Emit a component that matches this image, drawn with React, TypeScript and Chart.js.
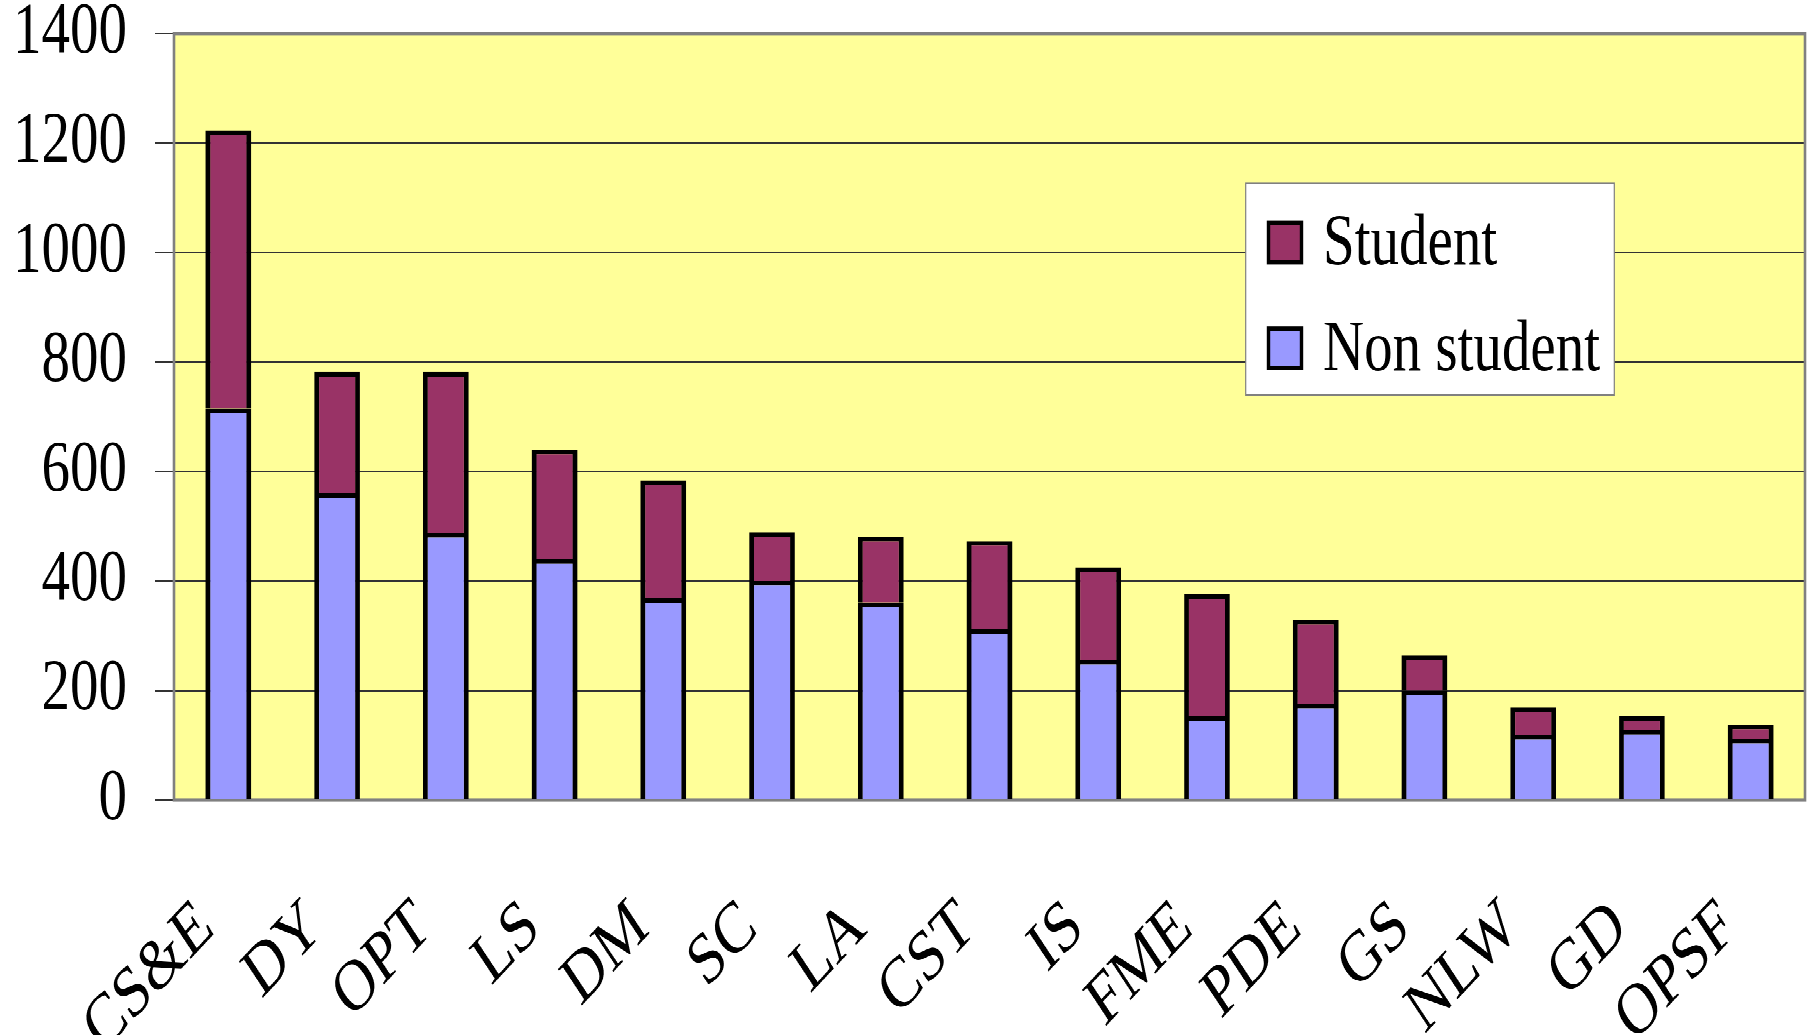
import React, { useEffect, useRef } from "react";
import { Chart, registerables } from "chart.js";

Chart.register(...registerables);

// ---- data ----
const categories = ["CS&E", "DY", "OPT", "LS", "DM", "SC", "LA", "CST", "IS", "FME", "PDE", "GS", "NLW", "GD", "OPSF"];
const nonStudent = [715, 560, 488, 440, 369, 400, 361, 312, 256, 153, 176, 200, 119, 128, 112];
const student = [508, 222, 294, 200, 215, 89, 120, 161, 169, 223, 153, 64, 50, 25, 26];
const yTicks = [0, 200, 400, 600, 800, 1000, 1200, 1400];
const seriesNames = ["Student", "Non student"];

// ---- styling ----
const W = 1810;
const H = 1035;
const STRETCH = 1.27; // the reference is stretched vertically
const LH = Math.round(H / STRETCH);
const FONT = "'Liberation Serif', 'Times New Roman', serif";
const FONT_SIZE = 57;
const STUDENT_COLOR = "#993366";
const NONSTUDENT_COLOR = "#9999FF";
const PLOT_BG = "#FFFF99";
const BAR_BORDER = { top: 3.6, left: 4.8, right: 4.8, bottom: 0 };

const plotPlugin = {
  id: "plotDecor",
  beforeDraw(chart: any) {
    const { ctx, chartArea: a } = chart;
    ctx.save();
    ctx.fillStyle = "#ffffff";
    ctx.fillRect(0, 0, chart.width, chart.height);
    ctx.fillStyle = PLOT_BG;
    ctx.fillRect(a.left, a.top, a.right - a.left, a.bottom - a.top);
    ctx.restore();
  },
  beforeDatasetsDraw(chart: any) {
    const { ctx, chartArea: a } = chart;
    ctx.save();
    ctx.strokeStyle = "#808080";
    ctx.lineWidth = 2.6;
    ctx.strokeRect(a.left, a.top, a.right - a.left, a.bottom - a.top);
    ctx.restore();
  },
  afterDraw(chart: any) {
    const { ctx } = chart;
    const box = { x: 1245.7, y: 144.3, w: 368.6, h: 166.7 };
    ctx.save();
    ctx.fillStyle = "#ffffff";
    ctx.fillRect(box.x, box.y, box.w, box.h);
    ctx.strokeStyle = "#808080";
    ctx.lineWidth = 1.2;
    ctx.strokeRect(box.x, box.y, box.w, box.h);
    const ds = chart.data.datasets;
    const items = [
      { label: ds[1].label, color: ds[1].backgroundColor, base: 208 },
      { label: ds[0].label, color: ds[0].backgroundColor, base: 291.3 },
    ];
    ctx.font = `${FONT_SIZE}px ${FONT}`;
    ctx.textBaseline = "alphabetic";
    ctx.textAlign = "left";
    for (const it of items) {
      const sx = 1268.5, sw = 33, sh = 31;
      const sy = it.base - sh - 1.5;
      ctx.fillStyle = it.color;
      ctx.fillRect(sx, sy, sw, sh);
      ctx.strokeStyle = "#000";
      ctx.lineWidth = 3.4;
      ctx.strokeRect(sx, sy, sw, sh);
      ctx.fillStyle = "#000";
      ctx.fillText(it.label, 1323, it.base);
    }
    ctx.restore();
  },
};

export default function App() {
  const ref = useRef<HTMLCanvasElement | null>(null);

  useEffect(() => {
    if (!ref.current) return;
    const chart = new Chart(ref.current, {
      type: "bar",
      data: {
        labels: categories,
        datasets: [
          {
            label: seriesNames[1],
            data: nonStudent,
            backgroundColor: NONSTUDENT_COLOR,
            borderColor: "#000000",
            borderWidth: BAR_BORDER,
            borderSkipped: false,
          },
          {
            label: seriesNames[0],
            data: student,
            backgroundColor: STUDENT_COLOR,
            borderColor: "#000000",
            borderWidth: BAR_BORDER,
            borderSkipped: false,
          },
        ],
      },
      options: {
        responsive: false,
        animation: false,
        devicePixelRatio: 2,
        layout: { padding: { left: 0, right: 5, top: 26.4, bottom: 0 } },
        plugins: {
          legend: { display: false },
          tooltip: { enabled: false },
          title: { display: false },
        },
        datasets: {
          bar: { barPercentage: 0.42, categoryPercentage: 1 },
        },
        scales: {
          x: {
            stacked: true,
            grid: { display: false },
            border: { display: false },
            ticks: {
              color: "#000",
              font: { family: FONT, size: FONT_SIZE },
              minRotation: 40,
              maxRotation: 40,
              autoSkip: false,
              padding: 58,
              labelOffset: -22,
            },
            afterFit(scale: any) {
              scale.height = LH - 630;
              scale.paddingLeft = 0;
              scale.paddingRight = 0;
            },
          },
          y: {
            stacked: true,
            min: 0,
            max: 1400,
            grid: {
              color: "#333333",
              lineWidth: 1,
              tickLength: 19,
              tickColor: "#333333",
            },
            border: { display: false },
            ticks: {
              color: "#000",
              font: { family: FONT, size: FONT_SIZE },
              padding: 28,
              stepSize: 200,
              callback: (v: any) => String(v),
            },
            afterBuildTicks(scale: any) {
              scale.ticks = yTicks.map((v) => ({ value: v }));
            },
            afterFit(scale: any) {
              scale.width = 174;
              scale.paddingTop = 0;
              scale.paddingBottom = 0;
            },
          },
        },
      },
      plugins: [plotPlugin],
    });
    return () => chart.destroy();
  }, []);

  return (
    <div
      style={{
        position: "absolute",
        left: 0,
        top: 0,
        width: W,
        height: LH,
        transform: `scaleY(${STRETCH})`,
        transformOrigin: "0 0",
        background: "#fff",
      }}
    >
      <canvas ref={ref} width={W} height={LH} style={{ width: `${W}px`, height: `${LH}px`, display: "block" }} />
    </div>
  );
}
